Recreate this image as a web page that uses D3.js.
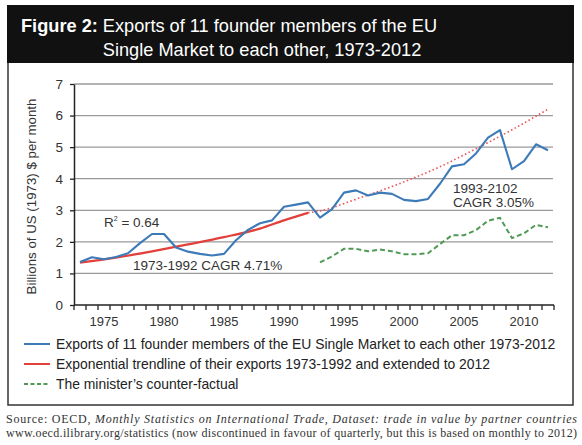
<!DOCTYPE html>
<html>
<head>
<meta charset="utf-8">
<script src="https://cdn.jsdelivr.net/npm/d3@7"></script>
<style>
  body { margin: 0; background: #fff; }
  svg { display: block; }
</style>
</head>
<body>
<div id="chart"></div>
<script>
const years = [1973, 1974, 1975, 1976, 1977, 1978, 1979, 1980, 1981, 1982,
               1983, 1984, 1985, 1986, 1987, 1988, 1989, 1990, 1991, 1992,
               1993, 1994, 1995, 1996, 1997, 1998, 1999, 2000, 2001, 2002,
               2003, 2004, 2005, 2006, 2007, 2008, 2009, 2010, 2011, 2012];
const exportsValues = [1.36, 1.51, 1.45, 1.52, 1.64, 1.96, 2.25, 2.25, 1.82, 1.69,
                       1.62, 1.57, 1.62, 2.05, 2.38, 2.59, 2.68, 3.11, 3.18, 3.25,
                       2.77, 3.04, 3.56, 3.63, 3.47, 3.56, 3.52, 3.33, 3.29, 3.36,
                       3.84, 4.39, 4.46, 4.80, 5.30, 5.54, 4.30, 4.56, 5.09, 4.90];
const counterYears = [1993, 1994, 1995, 1996, 1997, 1998, 1999, 2000, 2001, 2002,
                      2003, 2004, 2005, 2006, 2007, 2008, 2009, 2010, 2011, 2012];
const counterValues = [1.35, 1.54, 1.78, 1.78, 1.70, 1.76, 1.70, 1.61, 1.61, 1.64,
                       1.93, 2.21, 2.21, 2.37, 2.67, 2.76, 2.12, 2.27, 2.54, 2.46];
// trendline: fitted part and dotted extension
const trendYears = [1973, 1976, 1979, 1982, 1985, 1988, 1990, 1992];
const trendValues = [1.34, 1.50, 1.70, 1.92, 2.15, 2.42, 2.68, 2.92];
const extYears = [1992, 1993, 1996, 2000, 2003, 2006, 2009, 2012];
const extValues = [2.92, 2.98, 3.35, 3.90, 4.38, 4.95, 5.55, 6.20];

const yTicks = [0, 1, 2, 3, 4, 5, 6, 7];
const xTickLabels = [1975, 1980, 1985, 1990, 1995, 2000, 2005, 2010];
const legendLabels = [
    "Exports of 11 founder members of the EU Single Market to each other 1973-2012",
    "Exponential trendline of their exports 1973-1992 and extended to 2012",
    "The minister\u2019s counter-factual"
];

var width = 582;
var height = 445;
var sans = "'Liberation Sans', Arial, Helvetica, sans-serif";
var serif = "'Liberation Serif', 'DejaVu Serif', serif";

var blue = "#3d7ab8";
var red = "#e2403a";
var green = "#4f9a55";

var svg = d3.select("#chart")
    .append("svg")
        .attr("viewBox", [0, 0, width, height])
        .attr("width", width)
        .attr("height", height);

// frame
svg.append("rect")
    .attr("x", 8).attr("y", 62).attr("width", 565).attr("height", 343)
    .attr("fill", "#fff").attr("stroke", "#333").attr("stroke-width", 1.5);
svg.append("rect")
    .attr("x", 7).attr("y", 5).attr("width", 567).attr("height", 58)
    .attr("fill", "#111");

// header
var title = svg.append("text")
    .attr("x", 21).attr("y", 32)
    .attr("font-family", sans).attr("font-size", 18.2)
    .attr("fill", "#fff");
var lead = title.append("tspan").attr("font-weight", "bold").text("Figure 2:");
title.append("tspan").text(" Exports of 11 founder members of the EU");
var leadW = lead.node().getComputedTextLength() + 5;
svg.append("text")
    .attr("x", 21 + leadW).attr("y", 56)
    .attr("font-family", sans).attr("font-size", 18.2)
    .attr("fill", "#fff")
    .text("Single Market to each other, 1973-2012");

// scales
var x = d3.scaleBand()
    .domain(years)
    .range([74, 554]);
var cx = d => x(d) + x.bandwidth() / 2;

var y = d3.scaleLinear()
    .domain([0, 7])
    .range([305, 84]);

// gridlines
svg.append("g")
    .selectAll("line")
    .data(yTicks.slice(1))
    .join("line")
        .attr("x1", 74).attr("x2", 553)
        .attr("y1", d => y(d)).attr("y2", d => y(d))
        .attr("stroke", "#9a9a9a").attr("stroke-width", 1.3);

// y axis
var yAxis = svg.append("g")
    .attr("transform", "translate(74,0)")
    .call(d3.axisLeft(y).tickValues(yTicks).tickFormat(d3.format("d"))
        .tickSize(4).tickPadding(7).tickSizeOuter(0));
yAxis.select(".domain").attr("stroke", "#222").attr("stroke-width", 1.5);
yAxis.selectAll(".tick line").attr("stroke", "#222").attr("stroke-width", 1.3);
yAxis.selectAll(".tick text")
    .attr("font-family", sans).attr("font-size", 13.5).attr("fill", "#333");

// x axis: ticks sit between categories, labels every five years
svg.append("line")
    .attr("x1", x.range()[0]).attr("x2", x.range()[1])
    .attr("y1", y(0)).attr("y2", y(0))
    .attr("stroke", "#222").attr("stroke-width", 1.5);
svg.append("g")
    .selectAll("line")
    .data(years.concat([null]))
    .join("line")
        .attr("x1", d => d === null ? x.range()[1] : x(d))
        .attr("x2", d => d === null ? x.range()[1] : x(d))
        .attr("y1", y(0)).attr("y2", y(0) + 5)
        .attr("stroke", "#222").attr("stroke-width", 1.3);
svg.append("g")
    .selectAll("text")
    .data(xTickLabels)
    .join("text")
        .attr("x", d => cx(d))
        .attr("y", y(0) + 21)
        .attr("text-anchor", "middle")
        .attr("font-family", sans).attr("font-size", 13).attr("fill", "#333")
        .text(d => d);

// y axis title
svg.append("text")
    .attr("transform", `translate(36,${(y(0) + y(7)) / 2 + 2}) rotate(-90)`)
    .attr("text-anchor", "middle")
    .attr("font-family", sans).attr("font-size", 13.3).attr("fill", "#333")
    .text("Billions of US (1973) $ per month");

var line = d3.line()
    .x(d => cx(d[0]))
    .y(d => y(d[1]));
var smooth = d3.line()
    .x(d => cx(d[0]))
    .y(d => y(d[1]))
    .curve(d3.curveMonotoneX);

// trendline (dotted extension first, so the solid sits on top)
svg.append("path")
    .datum(d3.zip(extYears, extValues))
    .attr("fill", "none")
    .attr("stroke", "#e8585a")
    .attr("stroke-width", 1.6)
    .attr("stroke-dasharray", "1.6,2.4")
    .attr("d", smooth);
svg.append("path")
    .datum(d3.zip(trendYears, trendValues))
    .attr("fill", "none")
    .attr("stroke", red)
    .attr("stroke-width", 2.2)
    .attr("d", smooth);

// counter-factual
svg.append("path")
    .datum(d3.zip(counterYears, counterValues))
    .attr("fill", "none")
    .attr("stroke", green)
    .attr("stroke-width", 2)
    .attr("stroke-dasharray", "5,3")
    .attr("d", line);

// exports
svg.append("path")
    .datum(d3.zip(years, exportsValues))
    .attr("fill", "none")
    .attr("stroke", blue)
    .attr("stroke-width", 2.1)
    .attr("stroke-linejoin", "round")
    .attr("d", line);

// annotations
var r2 = svg.append("text")
    .attr("x", 104).attr("y", 227)
    .attr("font-family", sans).attr("font-size", 13.5).attr("fill", "#333");
r2.append("tspan").text("R");
r2.append("tspan").attr("font-size", 7).attr("dy", -6).text("2");
r2.append("tspan").attr("dy", 6).text(" = 0.64");

svg.append("text")
    .attr("x", 133).attr("y", 270)
    .attr("font-family", sans).attr("font-size", 13.5).attr("fill", "#333")
    .text("1973-1992 CAGR 4.71%");

svg.append("text")
    .attr("x", 453).attr("y", 193)
    .attr("font-family", sans).attr("font-size", 13.5).attr("fill", "#333")
    .text("1993-2102");
svg.append("text")
    .attr("x", 453).attr("y", 207)
    .attr("font-family", sans).attr("font-size", 13.5).attr("fill", "#333")
    .text("CAGR 3.05%");

// legend
var legendStyles = [
    {stroke: blue, dash: null},
    {stroke: red, dash: null},
    {stroke: green, dash: "4,2.5"}
];
var legend = svg.append("g")
    .selectAll("g")
    .data(legendLabels)
    .join("g")
        .attr("transform", (d, i) => `translate(0,${344 + i * 20})`);
legend.append("line")
    .attr("x1", 24).attr("x2", 50)
    .attr("stroke", (d, i) => legendStyles[i].stroke)
    .attr("stroke-width", 2)
    .attr("stroke-dasharray", (d, i) => legendStyles[i].dash);
legend.append("text")
    .attr("x", 56).attr("y", 5)
    .attr("font-family", sans).attr("font-size", 13.9).attr("fill", "#222")
    .text(d => d);

// source note, justified across the page
var src1 = svg.append("text")
    .attr("x", 6).attr("y", 423)
    .attr("font-family", serif).attr("font-size", 12).attr("fill", "#333")
    .attr("textLength", 571).attr("lengthAdjust", "spacing");
src1.append("tspan").text("Source: OECD, ");
src1.append("tspan").attr("font-style", "italic")
    .text("Monthly Statistics on International Trade, Dataset: trade in value by partner countries");
svg.append("text")
    .attr("x", 6).attr("y", 437)
    .attr("font-family", serif).attr("font-size", 12).attr("fill", "#333")
    .attr("textLength", 571).attr("lengthAdjust", "spacing")
    .text("www.oecd.ilibrary.org/statistics (now discontinued in favour of quarterly, but this is based on monthly to 2012)");
</script>
</body>
</html>
